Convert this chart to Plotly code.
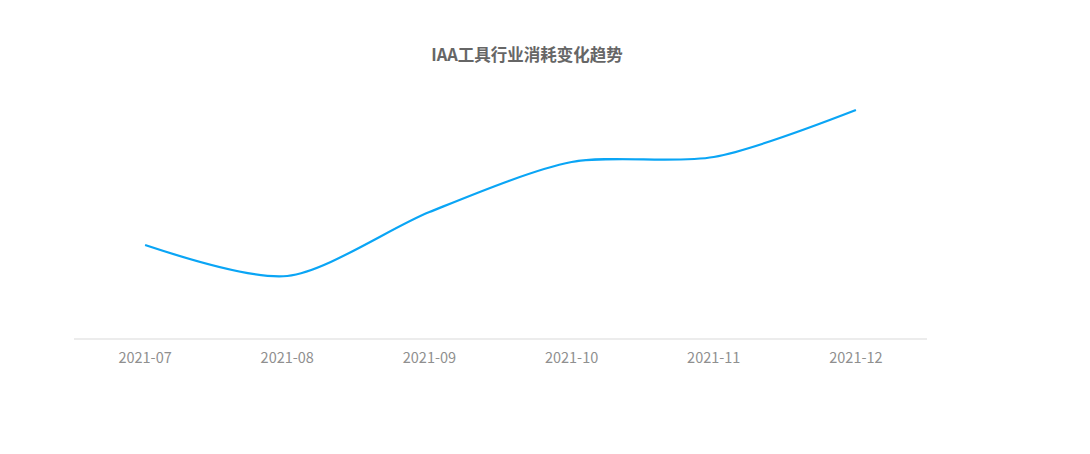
import plotly.graph_objects as go

# data
months = ['2021-07', '2021-08', '2021-09', '2021-10', '2021-11', '2021-12']
consumption = [93, 62, 126, 176, 181, 228]

title_text = 'IAA工具行业消耗变化趋势'

fig = go.Figure()

fig.add_trace(
    go.Scatter(
        x=months,
        y=consumption,
        mode='lines',
        line={'color': '#0aa5f5', 'width': 2.2, 'shape': 'spline', 'smoothing': 0.8},
        hoverinfo='x+y',
        showlegend=False,
    )
)

# the page body adds an 8px offset, so margins are trimmed by that much
fig.update_layout(
    width=1090,
    height=454,
    margin={'l': 66, 'r': 171, 't': 80, 'b': 124},
    paper_bgcolor='white',
    plot_bgcolor='white',
    font={'family': 'Noto Sans CJK SC, Microsoft YaHei, sans-serif'},
    title={
        'text': '<b>' + title_text + '</b>',
        'font': {'size': 16.5, 'color': '#666666'},
        'x': 519 / 1090,
        'xref': 'container',
        'xanchor': 'center',
        'y': 1 - 47 / 454,
        'yref': 'container',
        'yanchor': 'middle',
    },
    xaxis={
        'type': 'category',
        'range': [-0.5, 5.5],
        'showgrid': False,
        'zeroline': False,
        'showline': True,
        'linecolor': '#ececec',
        'linewidth': 2,
        'ticks': '',
        'ticklabelstandoff': 6,
        'tickfont': {'size': 14.5, 'color': '#8f8f8f'},
    },
    yaxis={
        'range': [0, 250],
        'showgrid': False,
        'zeroline': False,
        'showline': False,
        'showticklabels': False,
        'fixedrange': True,
    },
    # faint border seen at the right edge of the screenshot
    shapes=[
        {'type': 'line', 'xref': 'paper', 'yref': 'paper',
         'x0': (1080 - 66) / 853, 'x1': (1080 - 66) / 853, 'y0': 1 + 80 / 250, 'y1': -124 / 250,
         'line': {'color': '#eeeeee', 'width': 2}},
    ],
)

fig.write_html('out.html')
